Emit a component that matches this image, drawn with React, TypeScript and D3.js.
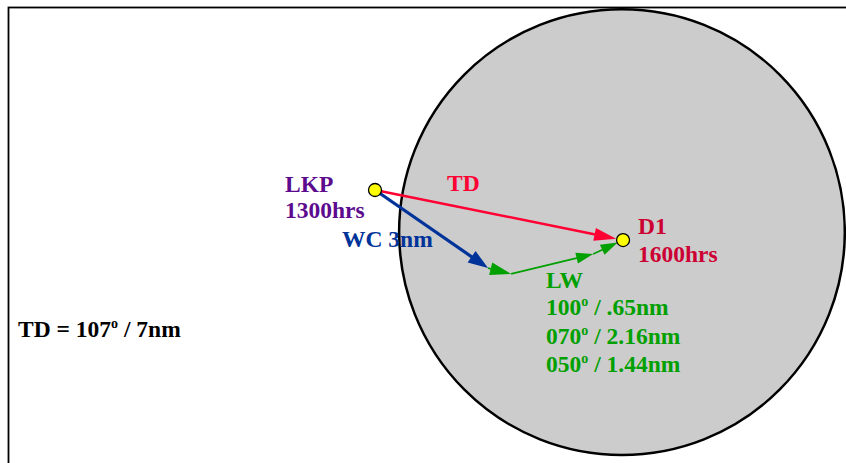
import React from "react";
import * as d3 from "d3";

// Waypoints in nautical miles east / north of LKP
const waypointNames = ["LKP", "WC", "LW1", "LW2", "D1"];
const waypointEast = [0, 3.14, 3.78, 6.06, 6.89];
const waypointNorth = [0, -2.17, -2.33, -1.78, -1.39];

// Search circle
const circleCenterEast = 6.86;
const circleCenterNorth = -1.17;
const circleRadiusNm = 6.19;

// Labels
const lwBearings = ["100", "070", "050"];
const lwDistances = [".65nm", "2.16nm", "1.44nm"];
const tdBearing = "107";
const tdDistance = "7nm";

const W = 846;
const H = 463;
const FONT = "'Liberation Serif', 'Times New Roman', serif";

const x = d3.scaleLinear().domain([0, 1]).range([375, 411]);
const y = d3.scaleLinear().domain([0, 1]).range([190, 154]);
const r = (nm: number) => Math.abs(x(nm) - x(0));

const P = (name: string) => {
  const i = waypointNames.indexOf(name);
  return [x(waypointEast[i]), y(waypointNorth[i])] as [number, number];
};

function Arrow({
  from,
  to,
  color,
  width,
  headLen,
  headW,
  trimEnd = 0,
}: {
  from: [number, number];
  to: [number, number];
  color: string;
  width: number;
  headLen: number;
  headW: number;
  trimEnd?: number;
}) {
  const dx = to[0] - from[0];
  const dy = to[1] - from[1];
  const len = Math.hypot(dx, dy);
  const ux = dx / len;
  const uy = dy / len;
  const tip: [number, number] = [to[0] - ux * trimEnd, to[1] - uy * trimEnd];
  const base: [number, number] = [tip[0] - ux * headLen, tip[1] - uy * headLen];
  const nx = -uy;
  const ny = ux;
  const head = [
    tip,
    [base[0] + (nx * headW) / 2, base[1] + (ny * headW) / 2],
    [base[0] - (nx * headW) / 2, base[1] - (ny * headW) / 2],
  ];
  const line = d3.line();
  return (
    <g>
      <path
        d={line([from, [base[0] + ux * 2, base[1] + uy * 2]]) || ""}
        stroke={color}
        strokeWidth={width}
        fill="none"
      />
      <path d={(line(head as [number, number][]) || "") + "Z"} fill={color} stroke="none" />
    </g>
  );
}

function Deg({ v }: { v: string }) {
  return (
    <>
      {v}
      <tspan fontSize={14} dy={-9}>
        o
      </tspan>
      <tspan dy={9}> </tspan>
    </>
  );
}

export default function App() {
  const lkp = P("LKP");
  const d1 = P("D1");
  const wc = P("WC");
  const lw1 = P("LW1");
  const lw2 = P("LW2");
  const fs = 23.5;
  return (
    <div style={{ position: "fixed", left: 0, top: 0, width: W, height: H, background: "#fff" }}>
      <svg width={W} height={H} style={{ display: "block" }} fontFamily={FONT} fontWeight="bold">
        <rect x={8.5} y={7.5} width={1000} height={1000} fill="#fff" stroke="#000" strokeWidth={1.8} />
        <circle
          cx={x(circleCenterEast)}
          cy={y(circleCenterNorth)}
          r={r(circleRadiusNm)}
          fill="#cccccc"
          stroke="#000"
          strokeWidth={2.5}
        />
        {/* TD */}
        <Arrow from={lkp} to={d1} color="#ff0033" width={2.5} headLen={22} headW={13} trimEnd={7} />
        {/* WC */}
        <Arrow from={lkp} to={wc} color="#003399" width={3.2} headLen={20} headW={14} />
        {/* LW legs */}
        <Arrow from={wc} to={lw1} color="#00a000" width={1.6} headLen={21} headW={13} />
        <Arrow from={lw1} to={lw2} color="#00a000" width={1.6} headLen={17} headW={11} />
        <Arrow from={lw2} to={d1} color="#00a000" width={1.6} headLen={17} headW={11} trimEnd={6} />

        <circle cx={lkp[0]} cy={lkp[1]} r={6.5} fill="#ffff00" stroke="#000" strokeWidth={1.3} />
        <circle cx={d1[0]} cy={d1[1]} r={6.5} fill="#ffff00" stroke="#000" strokeWidth={1.3} />

        <g fontSize={fs}>
          <text x={285} y={192} fill="#5c0b8f">LKP</text>
          <text x={285} y={218} fill="#5c0b8f">1300hrs</text>
          <text x={447} y={191} fill="#ff0033">TD</text>
          <text x={342} y={247} fill="#003399">WC 3nm</text>
          <text x={638} y={234} fill="#cc0033">D1</text>
          <text x={638} y={262} fill="#cc0033">1600hrs</text>
          <text x={546} y={288} fill="#00a000">LW</text>
          {lwBearings.map((b, i) => (
            <text key={b} x={546} y={315 + i * 28.5} fill="#00a000">
              <Deg v={b} />/ {lwDistances[i]}
            </text>
          ))}
          <text x={18} y={337} fill="#000">
            TD = <Deg v={tdBearing} />/ {tdDistance}
          </text>
        </g>
      </svg>
    </div>
  );
}
